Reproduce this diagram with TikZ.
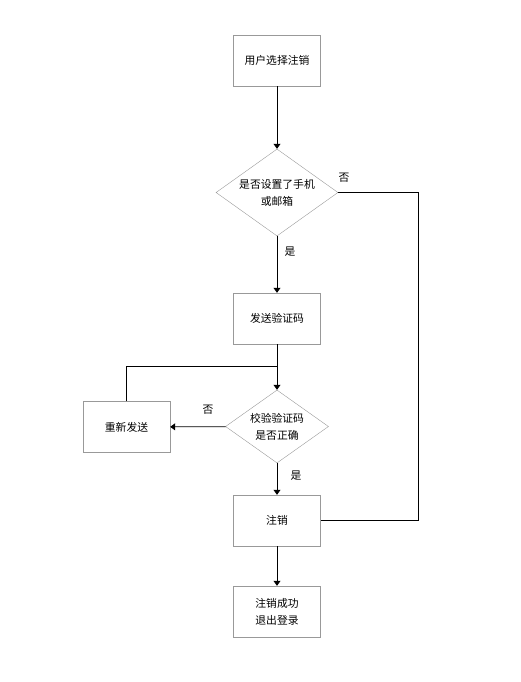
\documentclass[tikz,border=0pt]{standalone}
\usepackage{fontspec}
\newfontfamily\cjk{Noto Sans CJK SC}
\usetikzlibrary{arrows.meta,shapes.geometric}

\begin{document}
\begin{tikzpicture}[x=1pt, y=-1pt, >={Triangle[width=7pt,length=5pt]},
	every node/.style={font=\cjk\fontsize{10.8}{17}\selectfont, align=center},
	stepbox/.style={draw=black!40, minimum width=87pt, minimum height=51pt, inner sep=0pt},
	choice/.style={draw=black!40, shape=diamond, aspect=1.4, inner sep=0pt},
	flow/.style={draw=black, line width=0.8pt}]
	\useasboundingbox (0,0) rectangle (520,682);
	\node[stepbox] (pick) at (277,60.5) {用户选择注销};
	\node[choice, minimum width=122pt, minimum height=87pt] (bound) at (277,192.5) {是否设置了手机\\或邮箱};
	\node[stepbox] (send) at (277,318.5) {发送验证码};
	\node[choice, minimum width=103pt, minimum height=73pt] (check) at (277,426.5) {校验验证码\\是否正确};
	\node[stepbox] (resend) at (126.5,427) {重新发送};
	\node[stepbox] (cancel) at (277,520.5) {注销};
	\node[stepbox] (done) at (277,611.5) {注销成功\\退出登录};
	\coordinate (join) at (277,366);
	\coordinate (edge) at (418,192.5);
	\draw[flow, ->] (pick) -- (bound);
	\draw[flow, ->] (bound) -- (send);
	\draw[flow, ->] (send) -- (check);
	\draw[flow] (resend) |- (join);
	\draw[flow, ->] (check) -- (resend);
	\draw[flow, ->] (check) -- (cancel);
	\draw[flow] (bound.east) -- (edge) |- (cancel.east);
	\draw[flow, ->] (cancel) -- (done);
	\node (no1) at (344,178) {否};
	\node (yes1) at (290,252) {是};
	\node (no2) at (208,410) {否};
	\node (yes2) at (296,476) {是};
\end{tikzpicture}
\end{document}
